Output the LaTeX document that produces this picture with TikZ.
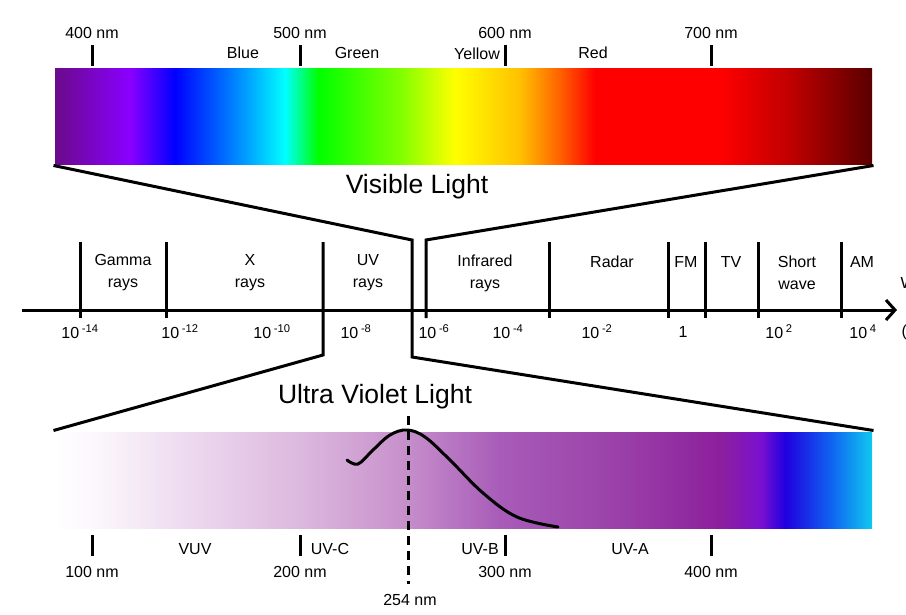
\documentclass[tikz,border=0pt]{standalone}
\usepackage{fontspec}
\setmainfont{Liberation Sans}
\usetikzlibrary{arrows.meta, positioning}

% spectrum colours
\definecolor{visA}{HTML}{6A0A8A}
\definecolor{visB}{HTML}{8A00FF}
\definecolor{visC}{HTML}{0000FF}
\definecolor{visD}{HTML}{0090FF}
\definecolor{visE}{HTML}{00FFFF}
\definecolor{visF}{HTML}{00FF00}
\definecolor{visG}{HTML}{80FF00}
\definecolor{visH}{HTML}{FFFF00}
\definecolor{visI}{HTML}{FFC000}
\definecolor{visJ}{HTML}{FF6000}
\definecolor{visK}{HTML}{FF0000}
\definecolor{visL}{HTML}{C00000}
\definecolor{visM}{HTML}{5A0000}

\definecolor{uvA}{HTML}{FFFFFF}
\definecolor{uvB}{HTML}{FBF6FB}
\definecolor{uvC}{HTML}{EEDCF0}
\definecolor{uvD}{HTML}{DCB8DE}
\definecolor{uvE}{HTML}{C892CC}
\definecolor{uvF}{HTML}{A85CB8}
\definecolor{uvG}{HTML}{9A40A8}
\definecolor{uvH}{HTML}{8C209C}
\definecolor{uvI}{HTML}{7A10D0}
\definecolor{uvJ}{HTML}{2000E0}
\definecolor{uvK}{HTML}{1060F0}
\definecolor{uvL}{HTML}{10C8F0}

\pgfdeclarehorizontalshading{visspec}{100bp}{color(0bp)=(visA); color(25bp)=(visA);
  color(29.59bp)=(visB); color(32.34bp)=(visC); color(36.32bp)=(visD); color(39.08bp)=(visE);
  color(41.10bp)=(visF); color(46.11bp)=(visG); color(49.48bp)=(visH); color(53.46bp)=(visI);
  color(55.91bp)=(visJ); color(58.05bp)=(visK); color(65.70bp)=(visK); color(69.98bp)=(visL);
  color(75bp)=(visM); color(100bp)=(visM)}

\pgfdeclarehorizontalshading{uvspec}{100bp}{color(0bp)=(uvA); color(25bp)=(uvA);
  color(27.75bp)=(uvB); color(32.65bp)=(uvC); color(40.0bp)=(uvD); color(46.1bp)=(uvE);
  color(52.2bp)=(uvF); color(59.6bp)=(uvG); color(65.7bp)=(uvH); color(68.2bp)=(uvI);
  color(69.7bp)=(uvJ); color(72.4bp)=(uvK); color(75bp)=(uvL); color(100bp)=(uvL)}

\begin{document}
\begin{tikzpicture}[x=1pt, y=-1pt, line width=3pt]
    % Define styles
    \tikzstyle{lbl} = [inner sep=0pt, align=center, font=\fontsize{16}{22}\selectfont]
    \tikzstyle{title} = [inner sep=0pt, font=\fontsize{26.5}{30}\selectfont]
    \tikzstyle{specbar} = [draw=none, rectangle, inner sep=0pt, minimum width=817pt, minimum height=96pt]
    \tikzstyle{funnel} = [line width=3pt, line join=miter]
    \tikzstyle{tick} = [line width=3pt]
    \tikzstyle{axis} = [-{Straight Barb[length=9pt, width=20pt]}, line width=3pt]

    \fill[white] (0,0) rectangle (906,614);
    \useasboundingbox (0,0) rectangle (906,614);

    % VISIBLE LIGHT
    \node (vis_bar) [specbar, shading=visspec] at (463.5,116) {};
    \foreach \x/\nm in {92/400, 300/500, 505/600, 711/700} {
        \draw[tick] (\x,45) -- (\x,66);
        \node (vis\nm) [lbl] at (\x,33) {\nm\ nm};
    }
    \node (blue_lbl) [lbl] at (243,53) {Blue};
    \node (green_lbl) [lbl] at (357,53) {Green};
    \node (yellow_lbl) [lbl] at (477,54) {Yellow};
    \node (red_lbl) [lbl] at (593,53) {Red};
    \node (vis_title) [title] at (417,187) {Visible Light};

    % WAVELENGTH AXIS
    \coordinate (axis_start) at (22,310);
    \coordinate (axis_end) at (897,310);
    \draw[axis] (axis_start) -- (axis_end);
    \foreach \x in {80,166,549,668,705,758,841}
        \draw[tick] (\x,242) -- (\x,318);

    \node (gamma_lbl) [lbl] at (123,273) {Gamma\\rays};
    \node (xray_lbl) [lbl] at (250,273) {X\\rays};
    \node (uv_lbl) [lbl] at (368,273) {UV\\rays};
    \node (ir_lbl) [lbl] at (485,273) {Infrared\\rays};
    \node (radar_lbl) [lbl] at (612,262) {Radar};
    \node (fm_lbl) [lbl] at (686,262) {FM};
    \node (tv_lbl) [lbl] at (731,262) {TV};
    \node (sw_lbl) [lbl] at (797,273) {Short\\wave};
    \node (am_lbl) [lbl] at (862,262) {AM};

    \foreach \x/\e in {80/-14, 180/-12, 272/-10, 356/-8, 434/-6, 508/-4, 597/-2, 779/2, 863/4}
        \node (pow\x) [lbl] at (\x,332) {10\,\textsuperscript{\e}};
    \node (pow683) [lbl] at (683,332) {1};
    \node (axis_name) [lbl, anchor=west] at (899,283) {W};
    \node (axis_unit) [lbl, anchor=west] at (900,332) {(};

    % ULTRA VIOLET LIGHT
    \node (uv_bar) [specbar, shading=uvspec] at (463.5,480) {};
    \node (uv_title) [title] at (375,397) {Ultra Violet Light};

    % Zoom lines
    \coordinate (uvl_top) at (323,242);
    \coordinate (uvl_bot) at (323,355);
    \coordinate (uvr_top) at (412,240);
    \coordinate (uvr_bot) at (412,357);
    \coordinate (ir_top) at (426,240);
    \coordinate (ir_bot) at (426,318);
    \draw[funnel] (vis_bar.south west) -- (uvr_top) -- (uvr_bot) -- (uv_bar.north east);
    \draw[funnel] (vis_bar.south east) -- (ir_top) -- (ir_bot);
    \draw[funnel] (uv_bar.north west) -- (uvl_bot) -- (uvl_top);

    % Germicidal curve
    \draw[line width=3pt, line cap=round] plot[smooth, tension=0.6] coordinates
        {(347,460) (358,464) (373,450) (390,435) (407,430) (425,437) (450,460) (483,493) (517,517) (558,527)};
    \coordinate (peak_top) at (408,416);
    \coordinate (peak_bot) at (408,584);
    \draw[line width=3pt, dash pattern=on 9pt off 6pt] (peak_top) -- (peak_bot);

    \foreach \x/\nm in {92/100, 300/200, 505/300, 711/400} {
        \draw[tick] (\x,535) -- (\x,556);
        \node (uv\nm) [lbl] at (\x,572) {\nm\ nm};
    }
    \node (uv254) [lbl] at (410,600) {254 nm};
    \node (vuv_lbl) [lbl] at (195,549) {VUV};
    \node (uvc_lbl) [lbl] at (330,549) {UV-C};
    \node (uvb_lbl) [lbl] at (480,549) {UV-B};
    \node (uva_lbl) [lbl] at (630,549) {UV-A};
\end{tikzpicture}
\end{document}
